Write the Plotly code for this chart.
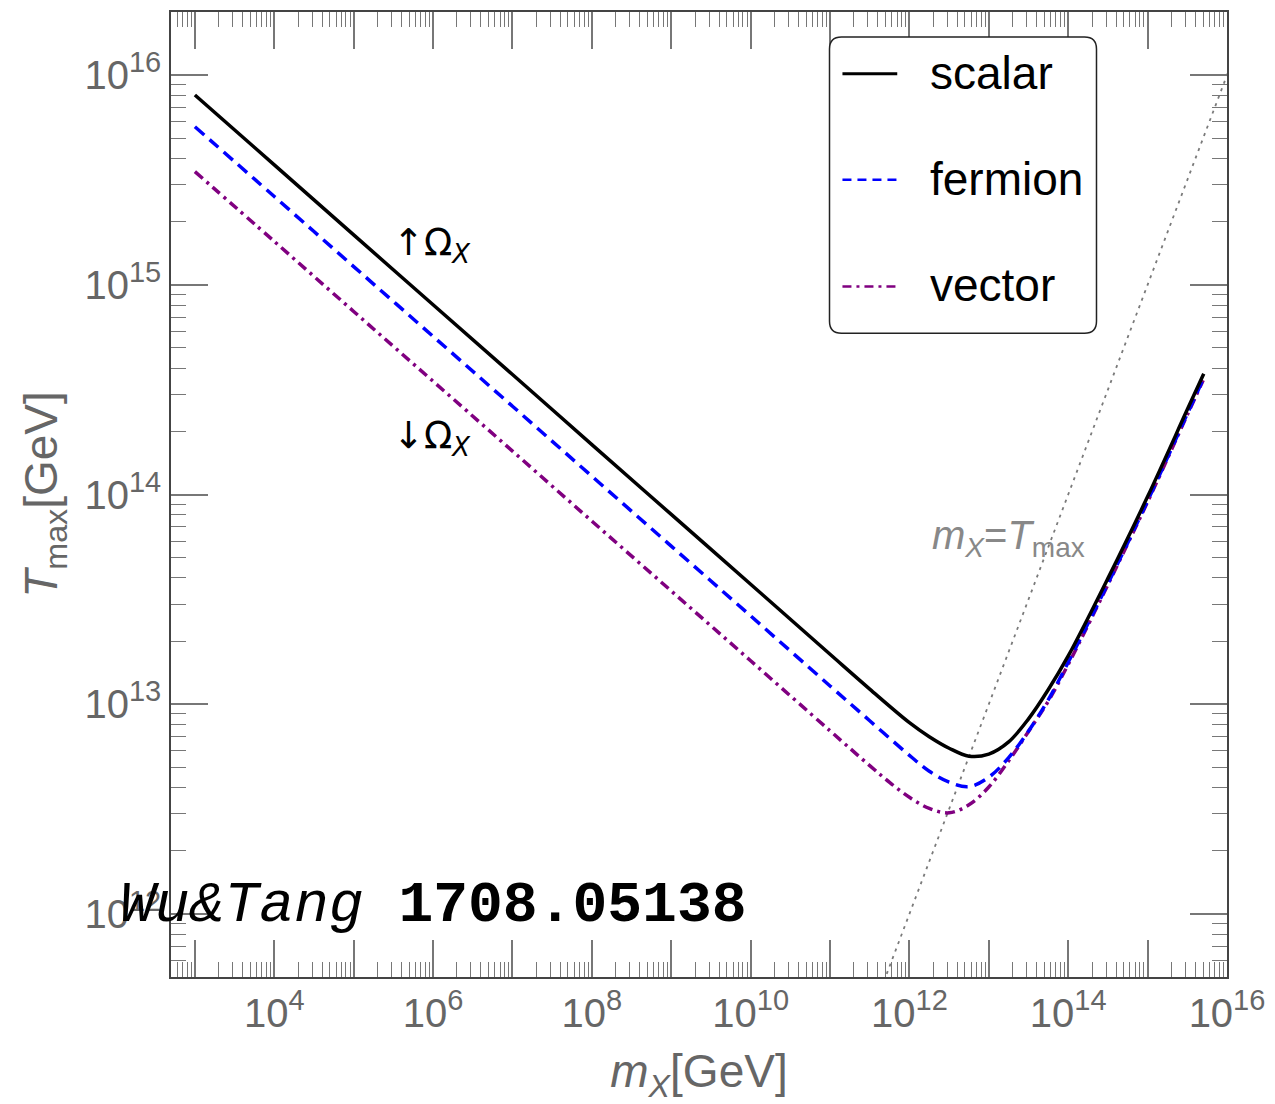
import plotly.graph_objects as go
import numpy as np

# ---- data (log10 values) ----
scalar_log_m = [3, 4, 5, 6, 7, 8, 9, 10, 11, 11.5, 12.0, 12.25, 12.5, 12.75, 13.0, 13.25, 13.5, 13.75, 14.0, 14.5, 15.0, 15.5, 15.707]
scalar_log_T = [15.905, 15.572, 15.238, 14.905, 14.572, 14.238, 13.905, 13.572, 13.238, 13.072, 12.912, 12.845, 12.79, 12.752, 12.762, 12.82, 12.93, 13.07, 13.23, 13.6, 13.99, 14.405, 14.576]

fermion_log_m = [3, 4, 5, 6, 7, 8, 9, 10, 11, 11.5, 12.0, 12.25, 12.5, 12.75, 13.0, 13.25, 13.5, 13.75, 14.0, 14.5, 15.0, 15.5, 15.70]
fermion_log_T = [15.754, 15.421, 15.087, 14.754, 14.421, 14.087, 13.754, 13.421, 13.087, 12.921, 12.756, 12.68, 12.628, 12.607, 12.652, 12.745, 12.872, 13.022, 13.2, 13.575, 13.97, 14.385, 14.55]

vector_log_m = [3, 4, 5, 6, 7, 8, 9, 10, 11, 11.5, 11.75, 12.0, 12.25, 12.5, 12.75, 13.0, 13.25, 13.5, 13.75, 14.0, 14.5, 15.0, 15.5, 15.70]
vector_log_T = [15.54, 15.207, 14.873, 14.54, 14.207, 13.873, 13.54, 13.207, 12.873, 12.707, 12.627, 12.556, 12.503, 12.482, 12.52, 12.605, 12.73, 12.87, 13.015, 13.19, 13.57, 13.965, 14.38, 14.545]

diag_m = [1e11, 1e17]          # m_X = T_max reference line
diag_T = [1e11, 1e17]

x_major_exps = list(range(3, 17))
y_major_exps = list(range(12, 17))

# ---- figure ----
fig = go.Figure()
fig.add_trace(go.Scatter(x=diag_m, y=diag_T, mode="lines", showlegend=False,
                         line=dict(color="#7a7a7a", width=1.8, dash="3px,5px")))
fig.add_trace(go.Scatter(x=[10**v for v in vector_log_m], y=[10**v for v in vector_log_T],
                         mode="lines", name="vector", line_shape="spline", showlegend=False,
                         line=dict(color="#800080", width=3.5, dash="10px,5px,3px,5px")))
fig.add_trace(go.Scatter(x=[10**v for v in fermion_log_m], y=[10**v for v in fermion_log_T],
                         mode="lines", name="fermion", line_shape="spline", showlegend=False,
                         line=dict(color="#0000FF", width=3.5, dash="12px,7px")))
fig.add_trace(go.Scatter(x=[10**v for v in scalar_log_m], y=[10**v for v in scalar_log_T],
                         mode="lines", name="scalar", line_shape="spline", showlegend=False,
                         line=dict(color="black", width=3.5)))

def minor_vals(lo, hi):
    out = []
    for e in range(lo, hi + 1):
        for k in range(2, 10):
            out.append(k * 10.0**e)
    return out

SANS = "Liberation Sans, Arial, sans-serif"
tickfont = dict(family=SANS, size=40, color="#666666")

def sup_label(e):
    return f"10<sup><span style='font-size:29px'>{e}</span></sup>"

fig.update_xaxes(
    type="log", range=[np.log10(500), 16],
    tickvals=[10.0**e for e in x_major_exps],
    ticktext=[sup_label(e) if e % 2 == 0 else "" for e in x_major_exps],
    ticks="inside", ticklen=37, tickwidth=1.5, tickcolor="#777777",
    minor=dict(tickvals=minor_vals(2, 15), ticks="inside", ticklen=15, tickwidth=1.2, tickcolor="#777777"),
    showline=True, linecolor="#444444", linewidth=1.5, mirror="allticks",
    showgrid=False, zeroline=False, tickfont=tickfont,
    title=dict(text="<i>m</i><sub><i>X</i></sub>[GeV]", font=dict(family=SANS, size=46, color="#666666"), standoff=22),
)
fig.update_yaxes(
    type="log", range=[np.log10(5e11), np.log10(2e16)],
    tickvals=[10.0**e for e in y_major_exps],
    ticktext=[sup_label(e) for e in y_major_exps],
    ticks="inside", ticklen=37, tickwidth=1.5, tickcolor="#777777",
    minor=dict(tickvals=minor_vals(11, 16), ticks="inside", ticklen=15, tickwidth=1.2, tickcolor="#777777"),
    showline=True, linecolor="#444444", linewidth=1.5, mirror="allticks",
    showgrid=False, zeroline=False, tickfont=tickfont,
    title=dict(text="<i>T</i><sub>max</sub>[GeV]", font=dict(family=SANS, size=46, color="#666666"), standoff=12),
)

W, H = 1275, 1104
L, R, T, B = 171, 44, 10, 127
pw, ph = W - L - R, H - T - B

def px(x):
    return (x - L) / pw

def py(y):
    return 1 - (y - T) / ph

shapes = []
# rounded legend box
x0, x1, y0, y1 = px(832), px(1100), py(332), py(35)
rx, ry = 12 / pw, 12 / ph
path = (f"M {x0+rx},{y1} L {x1-rx},{y1} Q {x1},{y1} {x1},{y1-ry} L {x1},{y0+ry} "
        f"Q {x1},{y0} {x1-rx},{y0} L {x0+rx},{y0} Q {x0},{y0} {x0},{y0+ry} "
        f"L {x0},{y1-ry} Q {x0},{y1} {x0+rx},{y1} Z")
shapes.append(dict(type="path", xref="paper", yref="paper", path=path,
                   line=dict(color="#222222", width=1.5), fillcolor="white", layer="above"))

legend_items = [("scalar", "black", "solid", 72, 3),
                ("fermion", "#0000FF", "9px,6px", 178, 2.5),
                ("vector", "#800080", "9px,5px,3px,5px", 285, 2.5)]
annotations = []
for name, col, dash, yy, w in legend_items:
    shapes.append(dict(type="line", xref="paper", yref="paper", x0=px(845), x1=px(900),
                       y0=py(yy), y1=py(yy), line=dict(color=col, width=w, dash=dash), layer="above"))
    annotations.append(dict(xref="paper", yref="paper", x=px(931), y=py(yy - 1), text=name,
                            showarrow=False, xanchor="left", yanchor="middle",
                            font=dict(family=SANS, size=46, color="black")))

annotations += [
    dict(xref="paper", yref="paper", x=px(392), y=py(243), text="↑Ω<sub><i>X</i></sub>",
         showarrow=False, xanchor="left", yanchor="middle",
         font=dict(family="DejaVu Sans, sans-serif", size=37, color="black")),
    dict(xref="paper", yref="paper", x=px(392), y=py(437), text="↓Ω<sub><i>X</i></sub>",
         showarrow=False, xanchor="left", yanchor="middle",
         font=dict(family="DejaVu Sans, sans-serif", size=37, color="black")),
    dict(xref="paper", yref="paper", x=px(933), y=py(537),
         text="<i>m</i><sub><i>X</i></sub>=<i>T</i><sub>max</sub>",
         showarrow=False, xanchor="left", yanchor="middle",
         font=dict(family=SANS, size=40, color="#888888")),
    dict(xref="paper", yref="paper", x=px(118), y=py(905),
         text="<i>Wu&amp;Tang</i> <b>1708.05138</b>",
         showarrow=False, xanchor="left", yanchor="middle",
         font=dict(family="Liberation Mono, Courier New, monospace", size=58, color="black")),
]

fig.update_layout(
    width=W, height=H, margin=dict(l=L, r=R, t=T, b=B),
    plot_bgcolor="white", paper_bgcolor="white",
    shapes=shapes, annotations=annotations, showlegend=False,
)

fig.write_html("out.html")
